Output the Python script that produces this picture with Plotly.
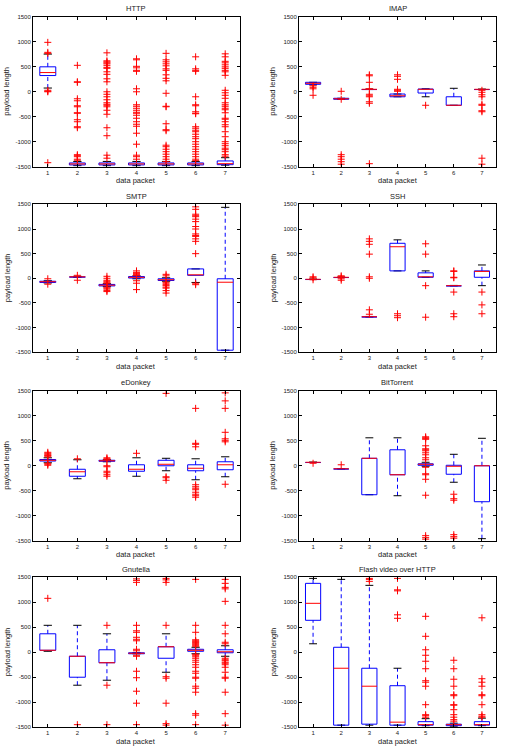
import plotly.graph_objects as go

# ---------------- data ----------------
titles = ["HTTP", "IMAP", "SMTP", "SSH", "eDonkey", "BitTorrent", "Gnutella", "Flash video over HTTP"]
packets = [1, 2, 3, 4, 5, 6, 7]
y_ticks = [-1500, -1000, -500, 0, 500, 1000, 1500]

# HTTP
http_q1 = [325, -1465, -1465, -1465, -1465, -1465, -1460]
http_med = [385, -1445, -1445, -1445, -1445, -1445, -1440]
http_q3 = [500, -1425, -1425, -1425, -1425, -1425, -1385]
http_lo = [75, -1480, -1480, -1480, -1480, -1480, -1470]
http_hi = [755, -1395, -1395, -1395, -1395, -1395, -1320]
http_out = [
    [990, 790, 770, 30, 10, 0, -1420],
    [530, 200, 190, -140, -180, -280, -300, -420, -430, -560, -600, -700, -720, -1260, -1280, -1300, -1350, -1370],
    [780, 620, 600, 580, 560, 530, 490, 470, 400, 350, 260, 200, 0, -50, -100, -160, -220, -250, -270, -300,
     -370, -450, -720, -880, -1270, -1330],
    [660, 640, 510, 480, 430, 410, 60, 0, -260, -290, -330, -370, -410, -430, -470, -530, -600, -650, -690,
     -830, -1050, -1270, -1300, -1350],
    [770, 640, 600, 560, 520, 460, 430, 340, 270, 220, -30, -290, -300, -640, -760, -780, -1070, -1100, -1150,
     -1200, -1250, -1300, -1350, -1400],
    [700, 460, 430, 410, -100, -260, -280, -400, -430, -440, -700, -730, -770, -800, -850, -900, -940, -1000,
     -1050, -1100, -1150, -1200, -1250, -1300, -1350, -1380],
    [760, 700, 610, 580, 540, 500, 470, 430, 400, 330, 30, -20, -70, -130, -220, -260, -290, -330, -360, -420,
     -530, -550, -600, -660, -700, -800, -900, -1000, -1040, -1080, -1130, -1160, -1200, -1260, -1290],
]

# IMAP
imap_q1 = [150, -150, 45, -100, -25, -270, 45]
imap_med = [170, -140, 50, -80, 50, -270, 50]
imap_q3 = [190, -130, 55, -45, 55, -100, 55]
imap_lo = [140, -150, 45, -100, -100, -270, 45]
imap_hi = [190, -130, 55, -45, 60, 70, 55]
imap_out = [
    [120, 90, 60, -70],
    [10, -150, -1260, -1300, -1350, -1400, -1450],
    [340, 320, 190, 60, -50, -80, -100, -200, -230, -1440],
    [340, 310, 250, 50, 30, 10],
    [-270],
    [],
    [30, -10, -60, -100, -250, -270, -380, -400, -1330, -1450],
]

# SMTP
smtp_q1 = [-85, 25, -155, 5, -45, 60, -1460]
smtp_med = [-70, 30, -140, 20, -30, 70, -80]
smtp_q3 = [-60, 35, -125, 35, -10, 190, -10]
smtp_lo = [-95, 20, -170, -10, -60, -85, -1460]
smtp_hi = [-50, 40, -110, 50, 10, 190, 1440]
smtp_out = [
    [-10, -120],
    [60, -40],
    [40, 0, -40, -60, -80, -100, -180, -200, -220, -250, -270],
    [150, 120, 100, 80, 60, -50, -100, -230],
    [80, 50, -80, -100, -130, -150, -180, -200, -250, -300],
    [1450, 1400, 1300, 1270, 1250, 1200, 1150, 1050, 1000, 900, 870, 850, 800, 750, 500, -100, -130],
    [],
]

# SSH
ssh_q1 = [-25, 15, -785, 150, 20, -155, 20]
ssh_med = [-20, 20, -780, 640, 30, -150, 140]
ssh_q3 = [-15, 25, -775, 710, 110, -145, 150]
ssh_lo = [-25, 15, -785, 150, 20, -155, -150]
ssh_hi = [-15, 25, -775, 780, 150, -145, 270]
ssh_out = [
    [30, 10, -30],
    [50, 30, -10, -40],
    [800, 750, 690, 490, 30, 0, -640, -730],
    [-720, -760, -800],
    [700, 490, -150, -790],
    [150, 140, 20, 10, -280, -720, -780],
    [-280, -540, -720],
]

# eDonkey
edonkey_q1 = [95, -210, 90, -110, 0, -100, -80]
edonkey_med = [110, -120, 100, -70, 30, -50, 20]
edonkey_q3 = [125, -70, 110, 20, 110, 20, 80]
edonkey_lo = [60, -260, 80, -210, -100, -280, -220]
edonkey_hi = [160, 120, 120, 160, 150, 140, 180]
edonkey_out = [
    [270, 250, 230, 210, 200, 180, 50, 30, 10],
    [140],
    [160, 140, 130, 0, -20, -110, -140, -180, -210],
    [250],
    [1450, -220, -240, -290],
    [1150, 450, 430, 380, -380, -420, -450, -480, -530, -570, -600, -630],
    [1460, 1300, 1150, 670, 540, 510, 480, -370],
]

# BitTorrent
bittorrent_q1 = [65, -65, -580, -180, 10, -170, -720]
bittorrent_med = [70, -60, 150, -180, 30, -10, 0]
bittorrent_q3 = [75, -55, 150, 320, 40, 10, 0]
bittorrent_lo = [65, -65, -580, -600, -10, -330, -1460]
bittorrent_hi = [75, -55, 560, 560, 70, 230, 550]
bittorrent_out = [
    [50],
    [20],
    [],
    [],
    [580, 560, 550, 530, 400, 340, 320, 300, 260, 220, 160, 120, -30, -160, -180, -270, -590, -1400, -1440, -1470],
    [-570, -660, -690, -1380, -1420, -1450],
    [],
]

# Gnutella
gnutella_q1 = [40, -500, -210, -30, -120, 20, -10]
gnutella_med = [40, -80, -210, -20, 110, 40, 10]
gnutella_q3 = [370, -80, 50, -10, 110, 60, 50]
gnutella_lo = [20, -660, -560, -30, -400, -30, -80]
gnutella_hi = [540, 540, 370, -10, 370, 100, 130]
gnutella_out = [
    [1080],
    [-1450],
    [540, -660, -1450],
    [1470, 1440, 1400, 540, 430, 400, 300, 260, 230, 60, 30, -60, -80, -380, -510, -780, -1020, -1450],
    [1480, 1450, 1400, 540, -490, -520, -1020, -1430, -1460],
    [1460, 540, 400, 250, 230, 210, 200, 180, 160, 140, 120, -40, -60, -90, -120, -160, -200, -250, -300, -380,
     -420, -500, -520, -680, -720, -800, -1230, -1260, -1450],
    [1460, 1380, 1300, 1270, 1020, 540, 370, 200, 170, -120, -150, -170, -200, -220, -250, -300, -400, -500,
     -520, -800, -1230, -1460],
]

# Flash video over HTTP
flash_q1 = [640, -1460, -1440, -1460, -1460, -1470, -1460]
flash_med = [980, -320, -680, -1400, -1450, -1450, -1450]
flash_q3 = [1380, 100, -320, -670, -1390, -1440, -1390]
flash_lo = [170, -1460, -1460, -1460, -1470, -1480, -1470]
flash_hi = [1480, 1460, 1340, -320, -1330, -1420, -1320]
flash_out = [
    [],
    [],
    [1480, 1460, 1420],
    [1480, 1250, 1230, 750, 680],
    [720, 320, 50, -60, -180, -330, -570, -600, -680, -1050, -1250, -1270, -1300],
    [-160, -330, -540, -680, -850, -870, -1050, -1060, -1150, -1250, -1300, -1350, -1380],
    [690, -530, -600, -680, -850, -870, -1050, -1250, -1280, -1300],
]

panels = [
    (http_q1, http_med, http_q3, http_lo, http_hi, http_out),
    (imap_q1, imap_med, imap_q3, imap_lo, imap_hi, imap_out),
    (smtp_q1, smtp_med, smtp_q3, smtp_lo, smtp_hi, smtp_out),
    (ssh_q1, ssh_med, ssh_q3, ssh_lo, ssh_hi, ssh_out),
    (edonkey_q1, edonkey_med, edonkey_q3, edonkey_lo, edonkey_hi, edonkey_out),
    (bittorrent_q1, bittorrent_med, bittorrent_q3, bittorrent_lo, bittorrent_hi, bittorrent_out),
    (gnutella_q1, gnutella_med, gnutella_q3, gnutella_lo, gnutella_hi, gnutella_out),
    (flash_q1, flash_med, flash_q3, flash_lo, flash_hi, flash_out),
]

# ---------------- layout geometry ----------------
W, H = 511, 750
col_px = [(33, 240), (299, 496)]
row_px = [(14, 165), (203, 352), (391, 542), (579, 730)]
BOX_HW = 0.27   # half box width (data units)
CAP_HW = 0.14   # half cap width

FONT = "Liberation Sans, Arial, Helvetica, sans-serif"
BLUE = "#0000FF"
RED = "#FF0000"

fig = go.Figure()
annotations = []
layout_axes = {}

for k, (q1, med, q3, lo, hi, outs) in enumerate(panels):
    r, c = divmod(k, 2)
    xa = "x" if k == 0 else f"x{k+1}"
    ya = "y" if k == 0 else f"y{k+1}"
    xdom = [col_px[c][0] / W, col_px[c][1] / W]
    ydom = [1 - row_px[r][1] / H, 1 - row_px[r][0] / H]

    # whiskers (dashed blue)
    wx, wy = [], []
    for i, p in enumerate(packets):
        if hi[i] > q3[i]:
            wx += [p, p, None]
            wy += [q3[i], hi[i], None]
        if lo[i] < q1[i]:
            wx += [p, p, None]
            wy += [lo[i], q1[i], None]
    fig.add_trace(go.Scatter(x=wx, y=wy, mode="lines", xaxis=xa, yaxis=ya,
                             line=dict(color=BLUE, width=1, dash="4px,3px"), hoverinfo="skip"))
    # caps (black)
    cx, cy = [], []
    for i, p in enumerate(packets):
        for v in (hi[i], lo[i]):
            cx += [p - CAP_HW, p + CAP_HW, None]
            cy += [v, v, None]
    fig.add_trace(go.Scatter(x=cx, y=cy, mode="lines", xaxis=xa, yaxis=ya,
                             line=dict(color="black", width=1), hoverinfo="skip"))
    # boxes (blue)
    bx, by = [], []
    for i, p in enumerate(packets):
        bx += [p - BOX_HW, p + BOX_HW, p + BOX_HW, p - BOX_HW, p - BOX_HW, None]
        by += [q1[i], q1[i], q3[i], q3[i], q1[i], None]
    fig.add_trace(go.Scatter(x=bx, y=by, mode="lines", xaxis=xa, yaxis=ya,
                             line=dict(color=BLUE, width=1), hoverinfo="skip"))
    # medians (red)
    mx, my = [], []
    for i, p in enumerate(packets):
        mx += [p - BOX_HW, p + BOX_HW, None]
        my += [med[i], med[i], None]
    fig.add_trace(go.Scatter(x=mx, y=my, mode="lines", xaxis=xa, yaxis=ya,
                             line=dict(color=RED, width=1), hoverinfo="skip"))
    # outliers (red +)
    ox, oy = [], []
    for i, p in enumerate(packets):
        ox += [p] * len(outs[i])
        oy += outs[i]
    fig.add_trace(go.Scatter(x=ox, y=oy, mode="markers", xaxis=xa, yaxis=ya,
                             marker=dict(symbol="cross-thin", size=5, color=RED,
                                         line=dict(color=RED, width=1)), hoverinfo="skip"))

    axis_common = dict(showgrid=False, zeroline=False, showline=True, linecolor="black", linewidth=1,
                       mirror="ticks", ticks="inside", ticklen=3, tickcolor="black",
                       tickfont=dict(family=FONT, size=6, color="#222222"))
    layout_axes["xaxis" if k == 0 else f"xaxis{k+1}"] = dict(
        axis_common, domain=xdom, range=[0.5, 7.5], tickvals=packets,
        ticktext=[str(p) for p in packets], anchor=ya)
    layout_axes["yaxis" if k == 0 else f"yaxis{k+1}"] = dict(
        axis_common, domain=ydom, range=[-1500, 1500], tickvals=y_ticks,
        ticktext=[str(t) for t in y_ticks], anchor=xa)

    xc = (xdom[0] + xdom[1]) / 2
    yc = (ydom[0] + ydom[1]) / 2
    annotations.append(dict(text=titles[k], x=xc, y=ydom[1], xref="paper", yref="paper",
                            xanchor="center", yanchor="middle", yshift=8, showarrow=False,
                            font=dict(family=FONT, size=7.5, color="#222222")))
    annotations.append(dict(text="data packet", x=xc, y=ydom[0], xref="paper", yref="paper",
                            xanchor="center", yanchor="middle", yshift=-14, showarrow=False,
                            font=dict(family=FONT, size=7.5, color="#222222")))
    annotations.append(dict(text="payload length", x=xdom[0], y=yc, xref="paper", yref="paper",
                            xanchor="center", yanchor="middle", xshift=-26, textangle=-90,
                            showarrow=False, font=dict(family=FONT, size=7.5, color="#222222")))

fig.update_layout(width=W, height=H, margin=dict(l=0, r=0, t=0, b=0),
                  paper_bgcolor="white", plot_bgcolor="white", showlegend=False,
                  annotations=annotations, **layout_axes)

fig.write_html("out.html")
